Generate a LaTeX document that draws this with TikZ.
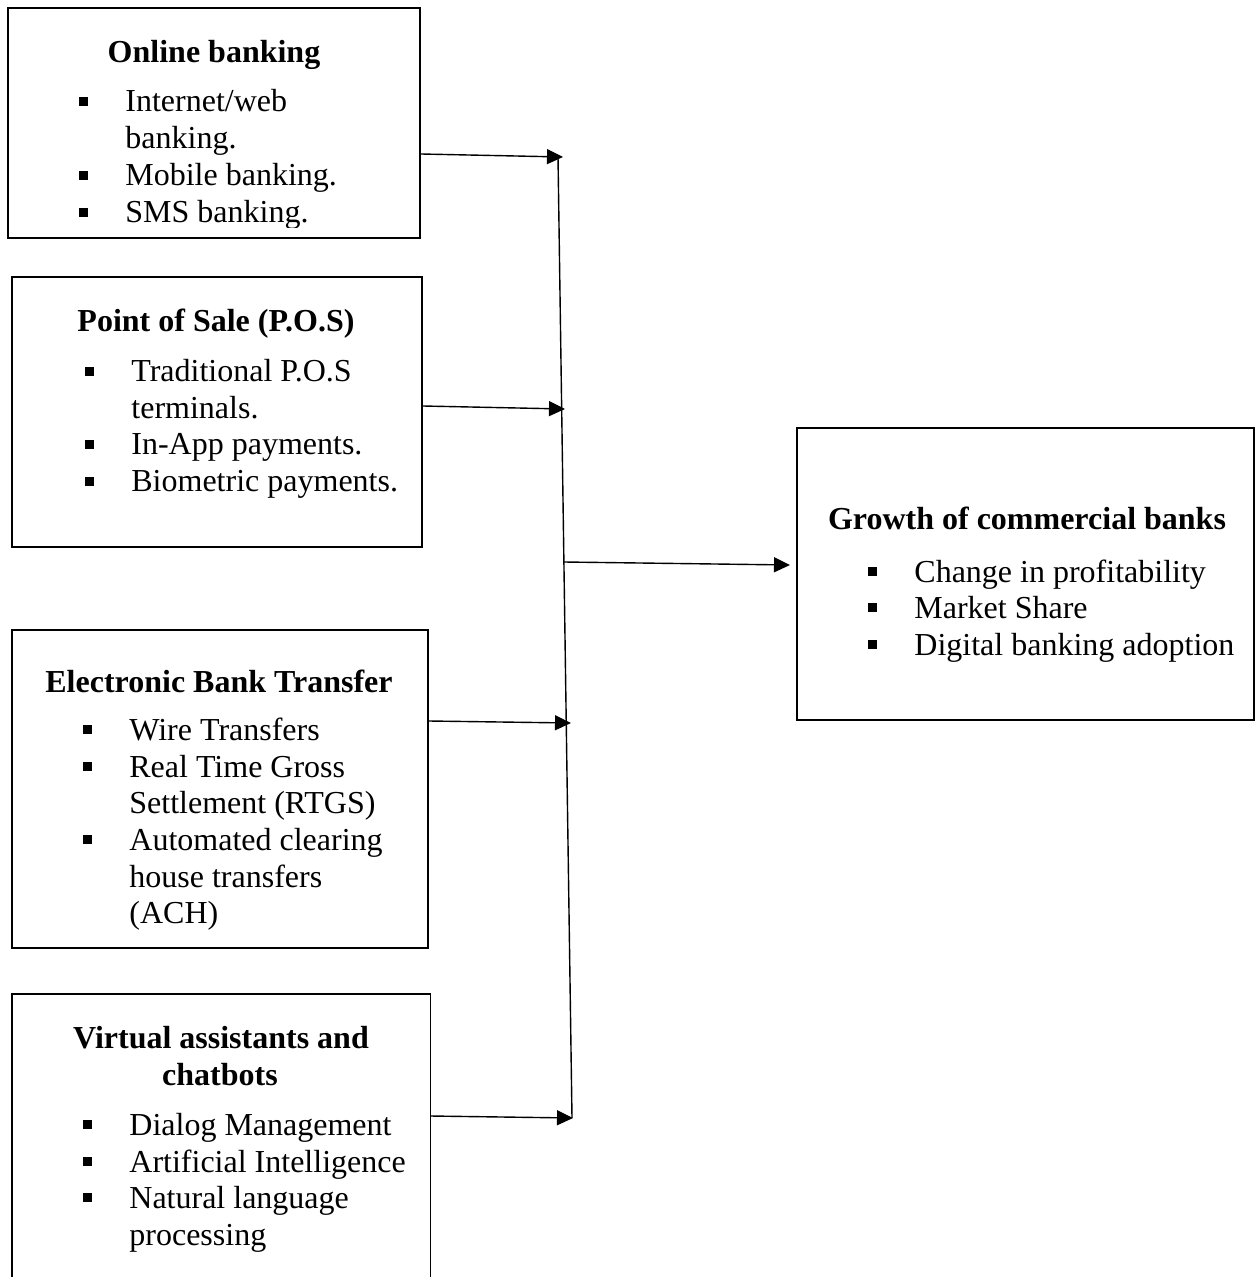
\documentclass[tikz,border=0pt]{standalone}
\usepackage{fontspec}
\setmainfont{Liberation Serif}
\usetikzlibrary{arrows.meta}
\newcommand\bul{\makebox[0pt][r]{\rule[3pt]{4.5pt}{4.5pt}\hspace{18.5pt}}}
\begin{document}
\begin{tikzpicture}[x=0.5pt,y=-0.5pt,
  box/.style={draw, line width=0.9pt, rectangle, inner sep=0pt},
  ttl/.style={anchor=base, inner sep=0pt, font=\fontsize{16pt}{18pt}\selectfont\bfseries},
  itm/.style={anchor=base west, inner sep=0pt, font=\fontsize{16pt}{18pt}\selectfont},
  arr/.style={line width=0.7pt, -{Triangle[length=8pt,width=7.5pt]}},
  conn/.style={line width=0.7pt}]
\useasboundingbox (0,0) rectangle (1256,1277);

% boxes
\node[box, minimum width=206pt, minimum height=115pt] (box1) at (214,123) {};
\node[box, minimum width=205pt, minimum height=135pt] (box2) at (217,412) {};
\node[box, minimum width=208pt, minimum height=159pt] (box3) at (220,789) {};
\node[rectangle, inner sep=0pt, minimum width=209pt, minimum height=153pt] (box4) at (221,1147) {};
\draw[line width=0.9pt] (box4.south west) |- (box4.north east) -- (box4.south east);
\node[box, minimum width=228.5pt, minimum height=146pt] (box5) at (1025.5,574) {};

% box 1
\begin{scope}
\clip (8,8) rectangle (420,228);
\node[ttl] (t1) at (214,63) {Online banking};
\node[itm] (a1) at (125,112) {\bul Internet/web};
\node[itm] (a2) at (125,149) {banking.};
\node[itm] (a3) at (125,186) {\bul Mobile banking.};
\node[itm] (a4) at (125,223) {\bul SMS banking.};
\end{scope}

% box 2
\node[ttl] (t2) at (216,332) {Point of Sale (P.O.S)};
\node[itm] (b1) at (131,382) {\bul Traditional P.O.S};
\node[itm] (b2) at (131,419) {terminals.};
\node[itm] (b3) at (131,455) {\bul In-App payments.};
\node[itm] (b4) at (131,492) {\bul Biometric payments.};

% box 3
\node[ttl] (t3) at (219,692) {Electronic Bank Transfer};
\node[itm] (c1) at (129,740) {\bul Wire Transfers};
\node[itm] (c2) at (129,777) {\bul Real Time Gross};
\node[itm] (c3) at (129,813) {Settlement (RTGS)};
\node[itm] (c4) at (129,850) {\bul Automated clearing};
\node[itm] (c5) at (129,887) {house transfers};
\node[itm] (c6) at (129,923) {(ACH)};

% box 4
\node[ttl] (t4a) at (221,1048) {Virtual assistants and};
\node[ttl] (t4b) at (220,1085) {chatbots};
\node[itm] (d1) at (129,1135) {\bul Dialog Management};
\node[itm] (d2) at (129,1172) {\bul Artificial Intelligence};
\node[itm] (d3) at (129,1208) {\bul Natural language};
\node[itm] (d4) at (129,1245) {processing};

% box 5
\node[ttl] (t5) at (1027,529) {Growth of commercial banks};
\node[itm] (e1) at (914,582) {\bul Change in profitability};
\node[itm] (e2) at (914,618) {\bul Market Share};
\node[itm] (e3) at (914,655) {\bul Digital banking adoption};

% connectors
\coordinate (s1) at (0,154);
\coordinate (s2) at (0,406);
\coordinate (s3) at (0,721);
\coordinate (s4) at (0,1116);
\coordinate (h1) at (563,157);
\coordinate (h2) at (565,409);
\coordinate (h3) at (571,723);
\coordinate (h4) at (573,1118);
\coordinate (vtop) at (558,157);
\coordinate (vbot) at (572,1118);
\coordinate (vmid) at (564,562);
\coordinate (out) at (790,565);

\draw[conn] (vtop) -- (vbot);
\draw[arr] (box1.east |- s1) -- (h1);
\draw[arr] (box2.east |- s2) -- (h2);
\draw[arr] (box3.east |- s3) -- (h3);
\draw[arr] (box4.east |- s4) -- (h4);
\draw[arr] (vmid) -- (out);
\end{tikzpicture}
\end{document}
